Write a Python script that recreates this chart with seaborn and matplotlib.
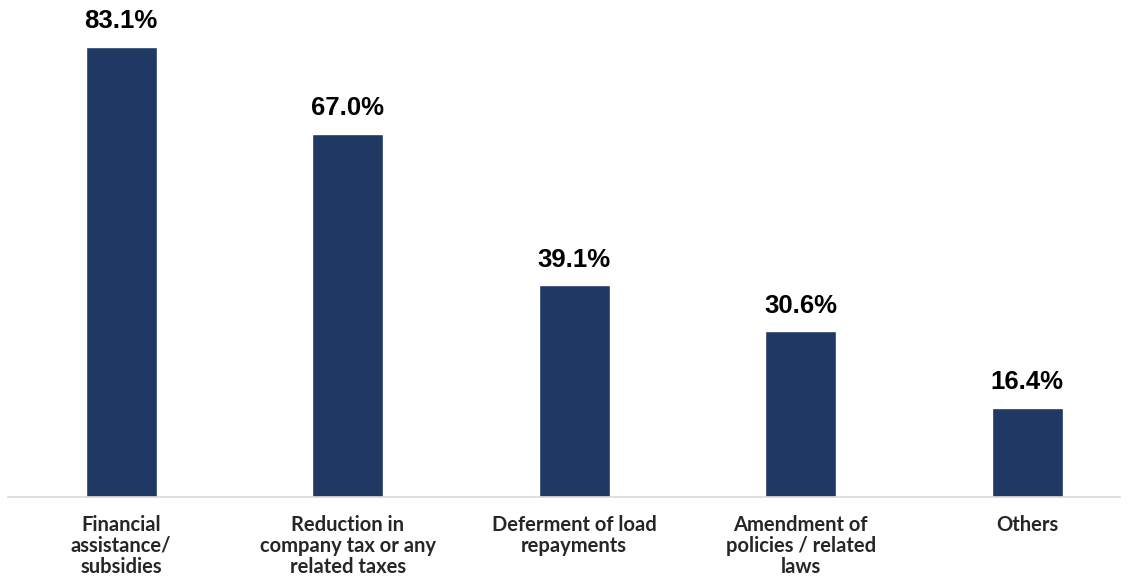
import matplotlib
matplotlib.use("Agg")
import matplotlib.pyplot as plt
import seaborn as sns
import pandas as pd

categories = [
    "Financial\nassistance/\nsubsidies",
    "Reduction in\ncompany tax or any\nrelated taxes",
    "Deferment of load\nrepayments",
    "Amendment of\npolicies / related\nlaws",
    "Others",
]
values = [83.1, 67.0, 39.1, 30.6, 16.4]
value_labels = ["83.1%", "67.0%", "39.1%", "30.6%", "16.4%"]

sns.set_theme(style="white")
plt.rcParams["font.family"] = ["Liberation Sans", "DejaVu Sans"]

df = pd.DataFrame({"category": categories, "value": values})

fig = plt.figure(figsize=(11.28, 5.88), dpi=100)
ax = fig.add_axes([8 / 1128, 1 - 497 / 588, 1112 / 1128, 497 / 588])

sns.barplot(data=df, x="category", y="value", color="#203864",
            saturation=1, width=0.313, ax=ax)

ax.set_xlim(-0.5, -0.5 + 1112 / 226.5)
ax.set_ylim(0, 497 / 5.415)

for i, (v, lab) in enumerate(zip(values, value_labels)):
    ax.annotate(lab, (i, v), xytext=(0, 13.5), textcoords="offset points",
                ha="center", va="baseline", fontsize=18.5, fontweight="bold",
                color="black", family=["Liberation Sans", "DejaVu Sans"])

for side in ["top", "right", "left"]:
    ax.spines[side].set_visible(False)
ax.spines["bottom"].set_color("#d9d9d9")
ax.spines["bottom"].set_linewidth(1.2)

ax.set_yticks([])
ax.set_xlabel("")
ax.set_ylabel("")
ax.tick_params(axis="x", length=0, pad=13)
for t in ax.get_xticklabels():
    t.set_fontfamily(["Lato", "DejaVu Sans"])
    t.set_fontweight("bold")
    t.set_fontsize(14.5)
    t.set_linespacing(1.05)
    t.set_verticalalignment("top")

fig.savefig("out.png", dpi=100)
